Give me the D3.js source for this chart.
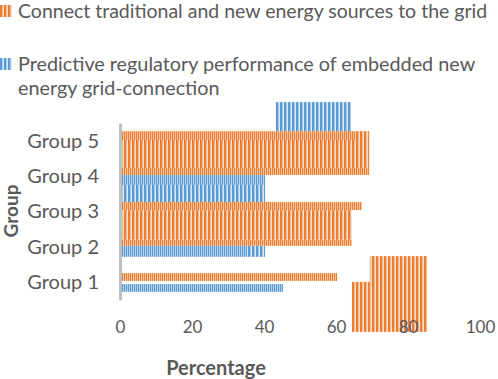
<!DOCTYPE html>
<html>
<head>
<meta charset="utf-8">
<script src="https://cdn.jsdelivr.net/npm/d3@7"></script>
<style>
  body { margin: 0; background: #fff; }
  text { font-family: Lato, "Open Sans", sans-serif; fill: #595959; }
</style>
</head>
<body>
<svg id="chart"></svg>
<script>
const groups = ["Group 1", "Group 2", "Group 3", "Group 4", "Group 5"];
const seriesNames = [
    "Connect traditional and new energy sources to the grid",
    "Predictive regulatory performance of embedded new energy grid-connection"
];
const xTicks = [0, 20, 40, 60, 80, 100];

// pieces of bars as they show in the picture
// series index, start and end in percent, lower and upper edge in group units, fine stripes or not
const segSeries = [0, 0, 0, 0, 1, 1, 0, 0, 0, 1, 1, 0, 1, 1, 0, 0];
const segFrom   = [0, 0, 65.3, 0, 0, 0, 0, 0, 0, 0, 35.3, 0, 0, 43.3, 64.4, 69.4];
const segTo     = [65.3, 65.3, 69.2, 69.2, 40.3, 40.3, 67.2, 64.4, 64.4, 35.3, 40.3, 60.3, 45.3, 64.2, 69.4, 85.3];
const segLow    = [5.02, 4.23, 4.23, 4.03, 3.75, 3.27, 3.04, 2.2, 2.03, 1.72, 1.72, 1.04, 0.73, 5.27, -0.4, -0.4];
const segHigh   = [5.27, 5.02, 5.27, 4.23, 4.03, 3.75, 3.27, 3.04, 2.2, 2.03, 2.03, 1.26, 0.95, 6.09, 1.01, 1.74];
const segFine   = [1, 0, 0, 1, 1, 0, 1, 0, 1, 1, 0, 1, 1, 0, 0, 0];

const W = 498, H = 379;
const colors = ["#ED7D31", "#5B9BD5"];
const tints = ["#FBE1CF", "#DCE9F6"];

const svg = d3.select("#chart").attr("width", W).attr("height", H);
const defs = svg.append("defs");

colors.forEach((c, i) => {
    [["coarse", 4, 2.4], ["fine", 2, 1.3]].forEach(([kind, w, s]) => {
        const p = defs.append("pattern")
            .attr("id", `pat-${i}-${kind}`)
            .attr("patternUnits", "userSpaceOnUse")
            .attr("width", w).attr("height", 10)
            .attr("x", 120);
        p.append("rect").attr("width", w).attr("height", 10).attr("fill", tints[i]);
        p.append("rect").attr("width", s).attr("height", 10).attr("fill", c);
    });
});

const x = d3.scaleLinear().domain([0, 100]).range([120, 480]);
const y = d3.scaleLinear().domain([0.5, 5.5]).range([300, 123]);

const segs = segSeries.map((s, i) => ({
    s, from: segFrom[i], to: segTo[i], low: segLow[i], high: segHigh[i], fine: segFine[i]
}));

svg.selectAll(".seg")
    .data(segs)
    .enter().append("rect")
    .attr("class", "seg")
    .attr("x", d => x(d.from))
    .attr("y", d => y(d.high))
    .attr("width", d => x(d.to) - x(d.from))
    .attr("height", d => y(d.low) - y(d.high))
    .attr("fill", d => `url(#pat-${d.s}-${d.fine ? "fine" : "coarse"})`);

// group axis
const yAxis = svg.append("g")
    .attr("transform", `translate(${x(0)},0)`)
    .call(d3.axisLeft(y).tickValues([1, 2, 3, 4, 5]).tickFormat(d => groups[d - 1]).tickSize(0).tickPadding(21));
yAxis.select(".domain").attr("stroke", "#BFBFBF").attr("stroke-width", 3);
yAxis.selectAll("text").style("font-size", "20px").attr("fill", "#595959");

// percentage axis, labels only
const xAxis = svg.append("g")
    .attr("transform", "translate(0,318)")
    .call(d3.axisBottom(x).tickValues(xTicks).tickSize(0));
xAxis.select(".domain").remove();
xAxis.selectAll("text").style("font-size", "17px").attr("fill", "#595959");

svg.append("text")
    .attr("x", 216).attr("y", 375)
    .attr("text-anchor", "middle")
    .style("font-size", "20px").style("font-weight", "bold")
    .text("Percentage");

svg.append("text")
    .attr("transform", "translate(18,211) rotate(-90)")
    .attr("text-anchor", "middle")
    .style("font-size", "19px").style("font-weight", "bold")
    .text("Group");

// legend
const legend = svg.append("g");
legend.append("rect").attr("x", 0).attr("y", 5).attr("width", 12).attr("height", 12)
    .attr("fill", "url(#pat-0-coarse)");
legend.append("text").attr("x", 18).attr("y", 18)
    .style("font-size", "19.5px").text(seriesNames[0]);
legend.append("rect").attr("x", 0).attr("y", 58).attr("width", 12).attr("height", 12)
    .attr("fill", "url(#pat-1-coarse)");
const t2 = legend.append("text").attr("y", 71).style("font-size", "19.8px");
t2.append("tspan").attr("x", 18).text("Predictive regulatory performance of embedded new");
t2.append("tspan").attr("x", 18).attr("dy", 24).text("energy grid-connection");
</script>
</body>
</html>
